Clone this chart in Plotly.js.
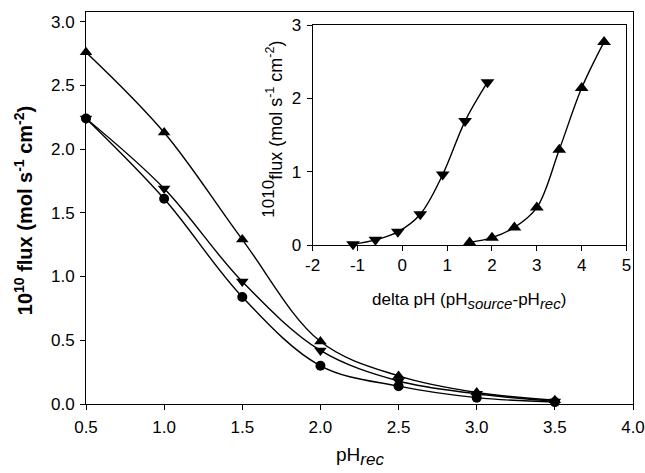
<!DOCTYPE html>
<html>
<head>
<meta charset="utf-8">
<script src="https://cdn.plot.ly/plotly-3.0.1.min.js"></script>
<style>html,body{margin:0;padding:0;background:#fff;}</style>
</head>
<body>
<div id="chart" style="width:645px;height:473px;"></div>
<script>
// Main chart data
var phRec = [0.5, 1.0, 1.5, 2.0, 2.5, 3.0, 3.5];
var fluxUp = [2.76, 2.13, 1.29, 0.49, 0.22, 0.09, 0.03];
var fluxDown = [2.24, 1.69, 0.96, 0.42, 0.18, 0.08, 0.02];
var fluxCircle = [2.24, 1.61, 0.84, 0.30, 0.14, 0.05, 0.015];

// Inset data
var deltaDown = [-1.1, -0.6, -0.1, 0.4, 0.9, 1.4, 1.9];
var insetDown = [0.01, 0.07, 0.18, 0.42, 0.96, 1.69, 2.22];
var deltaUp = [1.5, 2.0, 2.5, 3.0, 3.5, 4.0, 4.5];
var insetUp = [0.035, 0.10, 0.24, 0.51, 1.30, 2.14, 2.77];

var mainTicks = [0.0, 0.5, 1.0, 1.5, 2.0, 2.5, 3.0];
var xTicks = [0.5, 1.0, 1.5, 2.0, 2.5, 3.0, 3.5, 4.0];
var insetXTicks = [-2, -1, 0, 1, 2, 3, 4, 5];
var insetYTicks = [0, 1, 2, 3];

var FONT = 'Liberation Sans, Arial, sans-serif';
var line = {color: '#000', width: 1.4, shape: 'spline', smoothing: 1};

function tr(x, y, sym, size, xa, ya) {
  return {
    x: x, y: y, xaxis: xa, yaxis: ya, type: 'scatter', mode: 'lines+markers',
    line: line, marker: {symbol: sym, size: size, color: '#000'},
    showlegend: false, hoverinfo: 'skip', cliponaxis: false
  };
}

var data = [
  tr(phRec, fluxCircle, 'circle', 10, 'x', 'y'),
  tr(phRec, fluxDown, 'triangle-down', 11, 'x', 'y'),
  tr(phRec, fluxUp, 'triangle-up', 11, 'x', 'y'),
  tr(deltaDown, insetDown, 'triangle-down', 12, 'x2', 'y2'),
  tr(deltaUp, insetUp, 'triangle-up', 12, 'x2', 'y2')
];

var axBase = {
  showline: true, linecolor: '#000', linewidth: 1, mirror: true,
  ticks: 'outside', ticklen: 5, tickwidth: 1, tickcolor: '#000',
  showgrid: false, zeroline: false,
  tickfont: {family: FONT, size: 17, color: '#000'}
};

function subStyle(t, px) {
  return '<sub><span style="font-size:' + px + 'px"><i>' + t + '</i></span></sub>';
}

var layout = {
  width: 645, height: 473,
  margin: {l: 86, r: 12, t: 12, b: 69},
  paper_bgcolor: '#fff', plot_bgcolor: '#fff',
  font: {family: FONT, color: '#000'},
  xaxis: Object.assign({}, axBase, {
    range: [0.5, 4.0], tickmode: 'array', tickvals: xTicks,
    ticktext: xTicks.map(function(v){return v.toFixed(1);}), domain: [0, 1],
    ticklabelstandoff: 3
  }),
  yaxis: Object.assign({}, axBase, {
    range: [0, 3.075], tickmode: 'array', tickvals: mainTicks,
    ticktext: mainTicks.map(function(v){return v.toFixed(1);}), domain: [0, 1],
    ticklabelstandoff: 2
  }),
  xaxis2: Object.assign({}, axBase, {
    range: [-2, 5], tickmode: 'array', tickvals: insetXTicks,
    ticktext: insetXTicks.map(String), domain: [0.4144, 0.9881], anchor: 'y2'
  }),
  yaxis2: Object.assign({}, axBase, {
    range: [0, 3], tickmode: 'array', tickvals: insetYTicks,
    ticktext: insetYTicks.map(String), domain: [0.4056, 0.9668], anchor: 'x2',
    ticklabelstandoff: 2
  }),
  annotations: [
    {text: '<b>10<sup>10</sup> flux (mol s<sup>-1</sup> cm<sup>-2</sup>)</b>',
     xref: 'paper', yref: 'paper', x: -0.115, y: 0.492, textangle: -90,
     xanchor: 'center', yanchor: 'middle', showarrow: false,
     font: {family: FONT, size: 20, color: '#000'}},
    {text: 'pH' + subStyle('rec', 17),
     xref: 'paper', yref: 'paper', x: 0.5, y: -0.135,
     xanchor: 'center', yanchor: 'middle', showarrow: false,
     font: {family: FONT, size: 19, color: '#000'}},
    {text: 'delta pH (pH' + subStyle('source', 15) + '-pH' + subStyle('rec', 15) + ')',
     xref: 'paper', yref: 'paper', x: 0.701, y: 0.262,
     xanchor: 'center', yanchor: 'middle', showarrow: false,
     font: {family: FONT, size: 17, color: '#000'}},
    {text: '<sup><span style="font-size:17px">1010</span></sup>flux (mol s<sup>-1</sup> cm<sup>-2</sup>)',
     xref: 'paper', yref: 'paper', x: 0.342, y: 0.70, textangle: -90,
     xanchor: 'center', yanchor: 'middle', showarrow: false,
     font: {family: FONT, size: 18, color: '#000'}}
  ]
};

Plotly.newPlot('chart', data, layout, {displayModeBar: false, staticPlot: true});
</script>
</body>
</html>
